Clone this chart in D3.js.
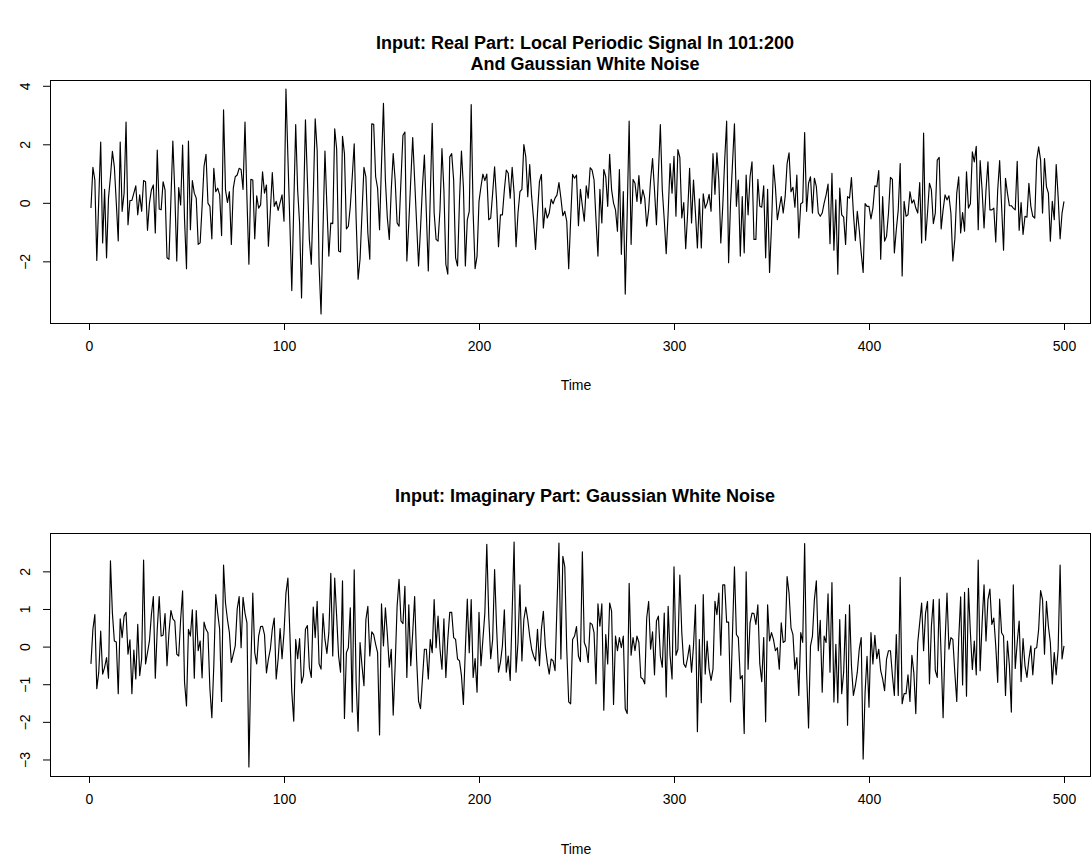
<!DOCTYPE html>
<html><head><meta charset="utf-8">
<script src="https://cdn.jsdelivr.net/npm/d3@7"></script>
<style>
body{margin:0;background:#fff;}
svg text{font-family:"Liberation Sans",Arial,Helvetica,sans-serif;fill:#000;}
</style></head><body>
<svg id="chart" width="1092" height="865"></svg>
<script>
// Axis ticks and titles
const timeTicks = [0, 100, 200, 300, 400, 500];
const realTicks = [-2, 0, 2, 4];
const imagTicks = [-3, -2, -1, 0, 1, 2];
const realTitle = ["Input: Real Part: Local Periodic Signal In 101:200", "And Gaussian White Noise"];
const imagTitle = ["Input: Imaginary Part: Gaussian White Noise"];
const timeLabel = "Time";

// Real part, t = 1..500
const realPart = [
-0.18,1.21,0.78,-1.97,0.10,2.08,-1.37,0.46,-1.88,0.16,
0.89,1.76,1.23,0.00,-1.30,2.08,-0.29,0.33,2.76,-0.75,
0.08,0.08,0.33,0.58,-0.41,0.27,-0.29,0.76,0.72,-0.94,
-0.01,0.44,0.61,-1.03,1.80,-0.21,-0.24,0.72,0.44,-1.88,
-1.93,0.10,2.11,0.38,-1.99,0.52,-0.07,1.97,-0.58,-2.25,
2.11,-0.92,0.76,0.33,0.16,-1.42,-1.37,-0.12,1.25,1.66,
-0.01,-0.12,-1.23,1.18,0.38,0.50,0.27,-1.12,3.18,0.44,
0.01,0.38,-1.42,0.50,0.89,0.95,1.18,1.14,0.46,2.76,
0.16,-2.10,0.80,0.78,-1.23,0.24,-0.18,-0.07,1.06,0.33,
0.61,-1.48,-0.29,1.03,-0.12,0.05,-0.26,0.01,0.27,-0.63,
3.89,1.57,-0.69,-3.00,-0.12,2.67,0.44,-0.70,-3.25,-0.24,
2.84,0.78,-1.25,-2.10,0.20,2.87,1.80,-2.16,-3.80,-0.90,
1.77,-0.12,-1.82,-0.69,-0.71,2.53,1.85,-1.65,-1.68,2.27,
1.68,-0.89,-0.80,-0.12,0.89,2.02,-0.58,-2.61,-1.93,-0.35,
1.21,0.89,-1.03,-1.93,2.70,2.68,0.89,0.50,-0.92,1.34,
3.40,0.78,-0.52,-1.25,0.44,1.68,0.78,-0.69,-0.80,0.78,
2.31,2.42,-1.99,-0.69,0.78,2.23,0.78,-0.69,-2.16,-0.90,
0.55,1.63,-0.35,-2.33,0.21,2.72,-0.35,-1.25,-1.31,-0.24,
1.85,0.44,-2.10,-2.44,1.57,1.68,0.78,-1.88,-2.16,0.10,
1.77,0.55,-2.16,-0.58,-0.29,3.36,-0.35,-2.25,-1.82,0.05,
0.55,0.98,0.76,0.98,-0.58,-0.52,0.33,1.23,0.10,-1.50,
-0.41,-0.41,0.44,1.12,1.01,0.16,1.21,0.33,-1.50,-0.35,
0.38,0.46,1.99,1.57,0.21,1.31,0.21,-0.58,-1.59,-0.35,
0.72,0.97,-0.86,-0.18,-0.52,-0.35,0.12,-0.03,0.16,0.27,
0.69,0.16,-0.44,-0.29,-0.63,-2.25,-0.58,0.97,0.84,0.95,
-0.78,0.46,-0.10,-0.63,0.58,0.16,1.20,1.12,0.78,-0.58,
-1.82,0.46,-0.69,1.14,0.89,-0.12,1.66,0.44,-0.01,-0.24,
-0.97,1.14,-1.76,0.38,-3.12,-0.35,2.79,-1.42,0.80,0.67,
0.05,0.93,-0.03,0.44,0.16,-0.80,-0.24,0.78,1.51,0.44,
-0.75,1.01,2.67,0.44,-0.58,-1.74,-0.35,1.34,0.33,1.59,
-0.46,1.82,1.55,-0.52,0.01,-1.57,-0.35,1.18,-0.69,0.78,
-0.35,-1.54,0.14,-1.54,0.31,-0.18,-0.01,0.29,-0.29,1.68,
0.29,1.71,0.78,-1.37,-0.12,1.46,2.79,-2.05,-0.01,1.34,
2.70,-0.12,0.78,-1.82,0.21,-1.71,0.95,-0.41,0.89,1.40,
-1.25,-1.25,0.80,-0.12,-0.15,0.58,-1.88,0.46,-2.38,-0.80,
1.29,0.55,-0.58,-0.18,0.21,-0.35,0.21,1.34,1.71,0.38,
0.53,-0.15,0.95,-1.20,-0.03,0.01,2.40,-0.29,0.67,0.89,
-0.35,0.84,0.55,-0.35,-0.46,-0.35,-0.01,0.27,0.64,-1.40,
1.01,-1.62,0.10,-2.44,0.50,-0.41,-0.49,-1.42,0.21,0.16,
0.86,-0.35,-1.29,-0.29,-0.92,-1.71,-2.38,-0.03,-0.12,-0.12,
-0.55,-0.18,0.58,0.55,1.10,-1.93,0.21,-1.31,-1.14,-0.35,
0.87,0.80,-1.71,-0.92,-0.24,1.34,-2.50,0.05,-0.46,-0.41,
0.38,-0.01,0.10,-0.18,-0.35,0.69,-1.37,2.38,-1.28,-0.35,
0.67,0.44,-0.71,-0.35,1.46,1.55,-0.89,-0.24,0.27,0.10,
0.24,-0.35,-1.99,-1.25,0.33,0.89,-1.03,-0.33,-0.97,1.06,
-0.18,-0.03,1.74,1.40,1.93,-0.92,1.44,0.44,-0.86,0.44,
1.40,-0.24,-0.24,-0.18,-1.34,0.44,1.44,-0.12,-1.62,0.84,
0.33,-0.10,-0.10,-0.18,-0.24,1.42,-0.94,0.01,-1.08,-0.46,
-0.49,0.67,-0.12,-0.46,-0.52,1.46,1.91,1.46,-0.35,1.51,
0.55,0.33,-1.31,0.05,-0.58,1.31,0.21,-1.23,-0.35,0.05
];

// Imaginary part, t = 1..500
const imagPart = [
-0.46,0.46,0.85,-1.12,-0.68,0.41,-0.73,-0.55,-0.29,-0.84,
2.28,0.89,0.15,0.12,-1.25,0.74,0.24,0.81,0.91,-0.20,
0.18,-1.25,-0.09,-0.86,0.59,-0.77,-0.33,2.30,-0.46,-0.16,
0.15,0.85,1.33,-0.84,0.46,1.33,0.28,0.30,0.88,-0.51,
0.37,0.96,0.74,0.68,-0.20,-0.25,0.72,1.48,-0.95,-1.58,
0.46,0.28,0.98,-0.84,0.96,-0.11,0.15,-0.83,0.65,0.46,
0.37,-1.12,-1.89,-0.51,1.38,0.89,0.46,-1.46,2.17,1.16,
0.72,0.37,-0.42,-0.20,0.02,1.00,1.33,-0.03,1.31,0.89,
0.63,-3.20,-0.51,1.42,-0.16,-0.46,0.28,0.53,0.54,0.32,
-0.70,-0.33,-0.07,0.46,0.76,-0.86,-0.33,0.48,-0.32,0.37,
1.42,1.82,0.37,-1.21,-1.98,0.19,-0.32,0.21,-0.97,-0.77,
0.46,0.56,-0.55,-0.82,1.05,0.24,1.20,-0.46,-0.60,0.88,
0.19,-0.18,0.37,1.95,-0.25,1.82,0.81,-0.25,-0.68,1.75,
-1.91,-0.16,-0.03,1.03,-1.74,2.04,-0.95,-2.25,0.11,-0.51,
-1.04,0.72,1.07,-0.25,0.39,0.32,0.06,-0.16,-2.35,1.14,
0.02,1.03,0.32,-0.55,-0.07,-1.82,-0.51,1.07,1.79,0.68,
0.61,1.60,-0.82,1.11,-0.51,0.37,1.33,-0.33,-1.45,-1.65,
-0.86,-0.07,-0.07,-0.86,0.19,-0.16,1.25,-0.03,0.81,-0.07,
-0.60,0.74,-0.82,0.19,0.91,0.91,0.24,0.19,-0.33,-0.38,
-0.77,-1.54,-0.07,1.26,-0.16,1.25,-0.82,-0.32,-1.21,0.91,
-0.51,0.19,0.89,2.72,0.81,-0.32,0.19,2.05,0.54,-0.68,
-0.42,0.02,0.98,-0.68,-0.25,-0.90,0.89,2.78,-0.68,0.11,
1.64,-0.38,0.72,1.05,0.72,0.28,-0.07,-0.25,-0.38,0.46,
-0.51,0.46,0.94,0.02,-0.42,-0.73,-0.33,-0.38,-0.64,1.11,
2.75,-0.33,2.40,2.12,-0.07,-1.47,-1.52,0.19,0.28,0.53,
-0.25,-0.40,2.52,0.11,-0.03,-0.42,0.63,0.59,0.37,-0.99,
1.14,0.54,1.14,-1.69,0.32,-0.46,1.16,0.94,-1.54,0.28,
-0.11,0.24,-0.03,0.28,-1.65,-1.78,1.68,-0.23,0.24,-0.11,
0.28,0.11,-0.82,-0.86,-0.99,0.76,1.20,-0.07,0.39,-0.75,
0.68,0.81,-0.25,-0.55,0.89,-1.34,1.07,-0.25,-0.86,2.12,
-0.23,-0.07,1.90,0.37,-0.46,-0.55,-0.29,0.04,-0.68,0.02,
1.11,-2.26,0.19,-1.49,1.38,-0.73,0.15,-0.60,-0.90,-0.60,
1.20,0.85,1.42,-0.23,1.64,1.64,0.65,0.65,-1.47,0.37,
2.12,0.32,0.24,-0.86,-0.77,-2.31,1.99,-0.60,0.63,0.89,
0.88,0.59,1.11,-0.46,-0.93,0.24,-2.00,1.11,0.15,0.37,
0.19,-0.11,-0.03,-0.60,0.63,0.11,0.15,1.86,1.42,0.50,
0.32,-0.60,-0.29,-1.30,0.37,0.11,2.74,-0.68,-2.16,0.02,
0.28,1.25,1.75,-0.11,0.70,-1.21,0.28,0.11,1.40,-0.68,
1.70,-1.47,0.06,-1.49,0.72,-1.25,-0.68,0.85,-2.09,1.11,
-0.51,-1.30,-1.04,-0.68,-0.07,0.24,-2.99,-1.21,-0.26,-1.61,
0.37,-0.46,0.30,-0.32,-0.07,-0.64,-0.86,-1.17,-0.33,-0.11,
-0.11,-0.77,-1.30,0.32,-1.30,1.84,-1.52,-1.25,-1.25,-0.75,
-1.46,-0.23,-0.70,-1.78,0.11,0.63,1.16,-0.11,0.89,1.20,
-0.99,0.54,1.25,-0.64,-0.82,1.26,-0.25,-1.89,0.11,1.42,
-0.07,0.24,0.19,-0.68,-1.46,0.19,1.32,-1.02,1.44,-1.32,
1.55,0.37,-0.61,0.15,-0.75,2.30,-0.64,0.63,1.64,0.15,
1.25,1.53,0.59,0.76,0.02,-0.95,1.26,0.37,0.28,-1.30,
0.15,-0.51,-1.74,1.64,-0.58,0.11,0.68,-0.93,0.21,-0.51,
-0.82,-0.33,0.02,-0.75,-0.05,-0.03,0.46,1.49,1.25,-0.20,
1.20,0.54,0.11,-0.99,-0.16,-0.75,-0.07,2.17,-0.33,0.02
];

const svg = d3.select("#chart");
const boxLeft = 50, boxRight = 1090;
const tickLen = 7;
const titleX = 585;

// Shared time scale (tick 0 and 500 positions)
const x = d3.scaleLinear().domain([0, 500]).range([89, 1064]);

function drawPanel(values, yTicks, titleLines, o) {
  const g = svg.append("g");
  // R-style 4% padding around the data range
  const [lo, hi] = d3.extent(values);
  const pad = (hi - lo) * 0.04;
  const y = d3.scaleLinear().domain([lo - pad, hi + pad]).range([o.bottom, o.top]);

  // title
  titleLines.forEach((t, i) => {
    g.append("text").attr("x", titleX).attr("y", o.titleY + i * 21)
      .attr("text-anchor", "middle").attr("font-weight", "bold")
      .attr("font-size", 18).text(t);
  });

  // series line
  const line = d3.line().x((d, i) => x(i + 1)).y(d => y(d));
  g.append("path").datum(values).attr("d", line)
    .attr("fill", "none").attr("stroke", "#000").attr("stroke-width", 1.15)
    .attr("stroke-linejoin", "round");

  // bottom axis
  const xa = d3.axisBottom(x).tickValues(timeTicks).tickSize(tickLen).tickPadding(5)
    .tickFormat(d3.format("d"));
  const xg = g.append("g").attr("transform", `translate(0,${o.bottom})`).call(xa);
  xg.select(".domain").attr("d", `M${x(0)},0.5H${x(500)}`).attr("stroke", "#000");
  xg.selectAll(".tick line").attr("stroke", "#000");
  xg.selectAll("text").attr("font-size", 14).attr("font-family", "Liberation Sans, Arial, sans-serif")
    .attr("fill", "#000").attr("dy", "0.71em").attr("y", 18);

  // left axis, labels rotated parallel to the axis
  const ya = d3.axisLeft(y).tickValues(yTicks).tickSize(tickLen).tickPadding(0)
    .tickFormat(d => d < 0 ? "\u2212" + Math.abs(d) : String(d));
  const yg = g.append("g").attr("transform", `translate(${boxLeft},0)`).call(ya);
  yg.select(".domain").remove();
  yg.selectAll(".tick line").attr("stroke", "#000");
  yg.selectAll("text").attr("font-size", 14).attr("font-family", "Liberation Sans, Arial, sans-serif")
    .attr("fill", "#000").attr("text-anchor", "middle").attr("x", null).attr("dy", null)
    .attr("transform", "translate(-20,0) rotate(-90)").attr("y", 0);

  // axis title
  g.append("text").attr("x", 576).attr("y", o.timeY).attr("text-anchor", "middle")
    .attr("font-size", 14).text(timeLabel);

  // plot frame
  g.append("rect").attr("x", boxLeft + 0.5).attr("y", o.top + 0.5)
    .attr("width", boxRight - boxLeft).attr("height", o.bottom - o.top)
    .attr("fill", "none").attr("stroke", "#000").attr("stroke-width", 1);
}

drawPanel(realPart, realTicks, realTitle, {top: 80, bottom: 323, titleY: 49, timeY: 390});
drawPanel(imagPart, imagTicks, imagTitle, {top: 533, bottom: 776, titleY: 502, timeY: 854});
</script>
</body></html>
